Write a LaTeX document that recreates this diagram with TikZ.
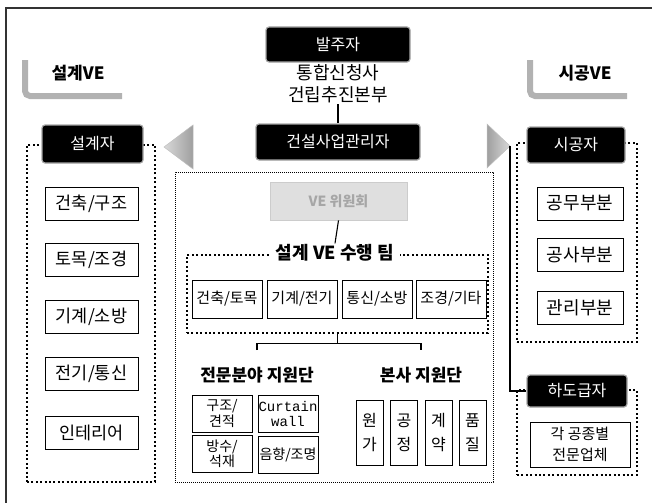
\documentclass[tikz,border=0pt]{standalone}
\usepackage{fontspec}
\setmainfont{Noto Sans CJK KR}
\setmonofont{Liberation Mono}
\newcommand\fsz[2]{\fontsize{#1}{#2}\selectfont}
\tikzset{
  blackbox/.style={fill=black, draw=gray!70, line width=1.2pt, rounded corners=3pt, text=white, inner sep=0pt},
  itembox/.style={draw=black, line width=1pt, fill=white, inner sep=0pt, align=center},
  heavydots/.style={draw=black, line width=2.4pt, dash pattern=on 2pt off 2.4pt, inner sep=0pt},
  finedots/.style={draw=black, line width=0.8pt, dash pattern=on 0.9pt off 1.1pt, inner sep=0pt},
  greybar/.style={draw=gray!60, line width=6pt, rounded corners=5pt},
  pointer/.style={draw=gray!50, line width=0.5pt},
  link/.style={draw=black, line width=1.1pt},
  plain/.style={inner sep=1pt, align=center},
}
\begin{document}
\begin{tikzpicture}[x=1pt,y=-1pt]
\useasboundingbox (0,0) rectangle (652,503);
% outer frame
\draw[line width=1.5pt, black!80] (652,8) -- (6,8) -- (6,503);

% VE labels
\draw[greybar] (25,60) |- (122,96);
\node[plain, font=\fsz{17}{17}\bfseries] (dve) at (78,73) {설계VE};
\draw[greybar] (530,60) |- (627,96);
\node[plain, font=\fsz{17}{17}\bfseries] (cve) at (585,73) {시공VE};

% owner
\node[blackbox, minimum width=144, minimum height=35, font=\fsz{16}{16}] (owner) at (338,44.5) {발주자};
\node[plain, font=\fsz{18}{22}] (ownerorg) at (338,84) {통합신청사\\건립추진본부};
\node[blackbox, minimum width=164, minimum height=36, font=\fsz{16}{16}] (cm) at (338,142) {건설사업관리자};
\draw[link] (ownerorg.south) -- (cm.north);

% grey pointers
\coordinate (ltip) at (164,147);
\coordinate (rtip) at (510,146);
\shade[pointer, left color=gray!30, right color=gray!75] (ltip) -- (193,125) -- (193,169) -- cycle;
\shade[pointer, left color=gray!75, right color=gray!30] (rtip) -- (487,124) -- (487,168) -- cycle;

% designer group
\node[heavydots, minimum width=128, minimum height=337] (dframe) at (91,313.5) {};
\node[blackbox, minimum width=101, minimum height=38, font=\fsz{16}{16}] (designer) at (92.5,144) {설계자};
\foreach \n/\t/\y in {d1/건축\slash 구조/203.5, d2/토목\slash 조경/260, d3/기계\slash 소방/316.5, d4/전기\slash 통신/374, d5/인테리어/432.5}{
  \node[itembox, minimum width=93, minimum height=33, font=\fsz{17.5}{17.5}] (\n) at (91.5,\y) {\t};
}

% central CM frame
\node[finedots, minimum width=318, minimum height=310] (cframe) at (334,327) {};
\node[draw=gray!40, fill=gray!25, line width=0.8pt, minimum width=137, minimum height=38, inner sep=0pt, text=gray!70, font=\fsz{14}{14}\bfseries] (vebox) at (338.5,201) {VE 위원회};
\node[heavydots, minimum width=301, minimum height=78] (teamframe) at (337.5,294) {};
\node[plain, fill=white, inner xsep=6pt, font=\fsz{18}{18}\bfseries] (team) at (335,253) {설계 VE 수행 팀};
\draw[link] (vebox.south) -- (team.north);
\foreach \n/\t/\x in {t1/건축\slash 토목/227, t2/기계\slash 전기/302, t3/통신\slash 소방/377, t4/조경\slash 기타/451}{
  \node[itembox, minimum width=70, minimum height=38, font=\fsz{15}{15}] (\n) at (\x,299) {\t};
}
\node[plain, font=\fsz{17}{17}\bfseries] (spec) at (257,375) {전문분야 지원단};
\node[plain, font=\fsz{17}{17}\bfseries] (hq) at (421,375) {본사 지원단};
\draw[link] (teamframe.south) -- ++(0,9) coordinate (bmid);
\coordinate (bl) at (spec.north |- 350,350);
\coordinate (br) at (hq.north |- 350,350);
\draw[link] (bl) |- (bmid) -| (br);

\node[itembox, minimum width=60, minimum height=37, font=\fsz{14}{14}] (s1) at (222,413.5) {구조\slash\\견적};
\node[itembox, minimum width=60, minimum height=37, font=\ttfamily\fsz{14}{15}] (s2) at (288,413.5) {Curtain\\wall};
\node[itembox, minimum width=60, minimum height=37, font=\fsz{14}{14}] (s3) at (222,453.5) {방수\slash\\석재};
\node[itembox, minimum width=60, minimum height=37, font=\fsz{14}{14}] (s4) at (288,454.5) {음향\slash 조명};
\foreach \n/\t/\x in {h1/원\\가/369.5, h2/공\\정/404, h3/계\\약/438.5, h4/품\\질/472.5}{
  \node[itembox, minimum width=27, minimum height=65, font=\fsz{16}{24}] (\n) at (\x,432.5) {\t};
}

% contractor group
\node[heavydots, minimum width=120, minimum height=199] (cframe2) at (577,242.5) {};
\node[blackbox, minimum width=98, minimum height=36, font=\fsz{16}{16}] (contractor) at (576,145) {시공자};
\foreach \n/\t/\y in {c1/공무부분/203.5, c2/공사부분/255, c3/관리부분/307.5}{
  \node[itembox, minimum width=86, minimum height=33, font=\fsz{18}{18}] (\n) at (580,\y) {\t};
}

% subcontractor group
\node[heavydots, minimum width=120, minimum height=85] (sframe) at (577,432.5) {};
\node[blackbox, minimum width=100, minimum height=32, font=\fsz{16}{16}] (subc) at (577,391) {하도급자};
\node[itembox, minimum width=100, minimum height=45, font=\fsz{15}{21}] (spcl) at (580,444.5) {각 공종별\\전문업체};
\draw[link] (rtip) |- (subc.west);
\end{tikzpicture}
\end{document}
